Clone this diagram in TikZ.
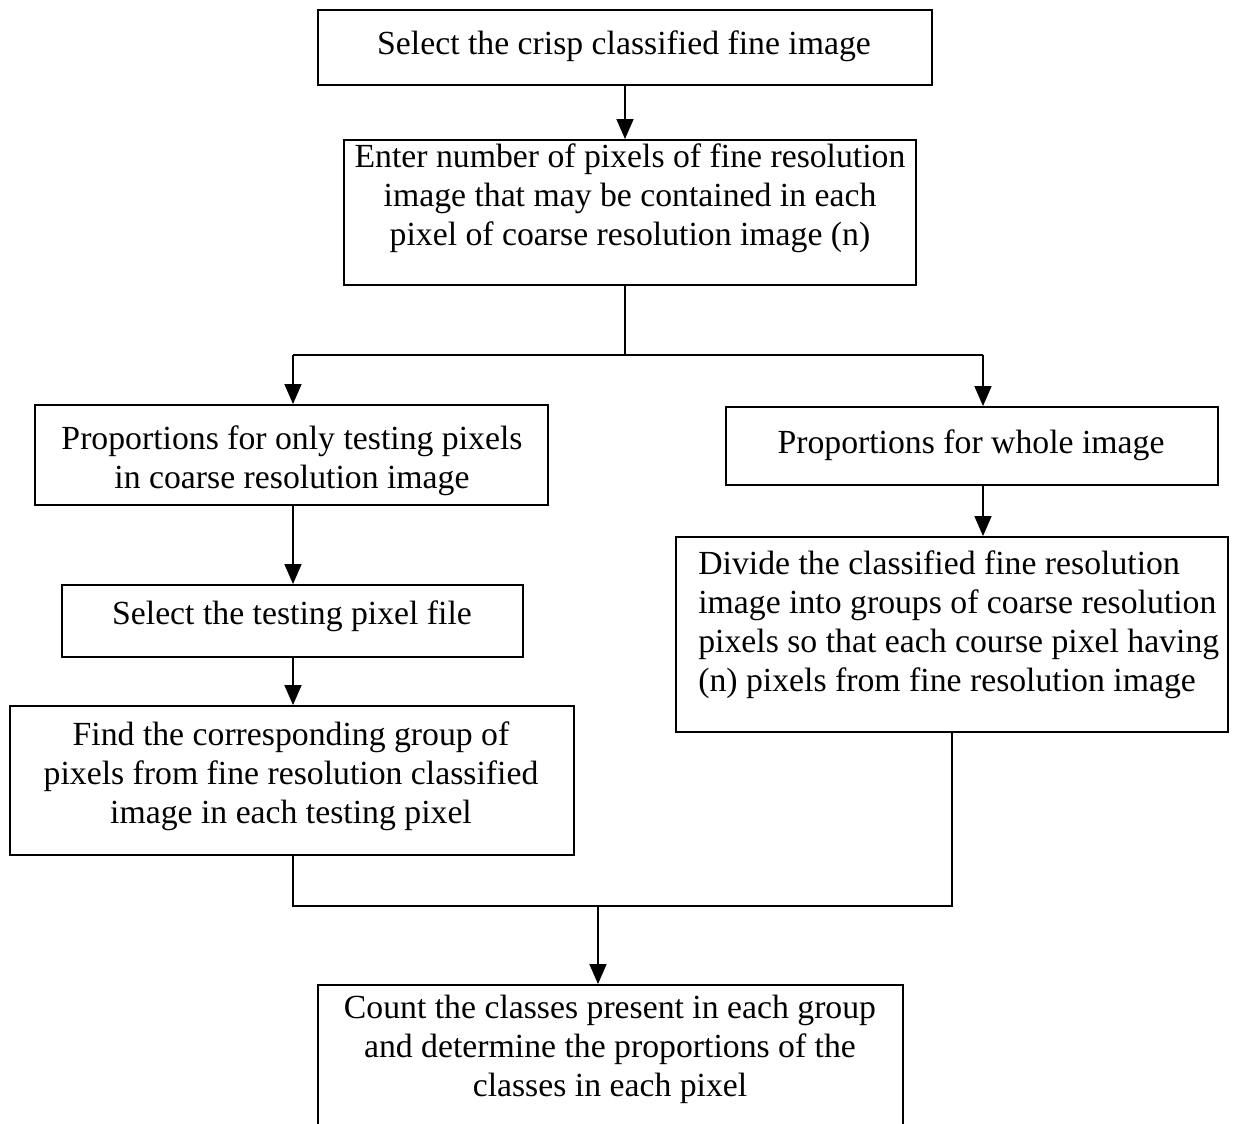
\documentclass[tikz,border=0pt]{standalone}
\usepackage{fontspec}
\setmainfont{Liberation Serif}
\usetikzlibrary{arrows.meta}
\begin{document}
\begin{tikzpicture}[x=0.02cm,y=-0.02cm,
  box/.style={draw,line width=1.1pt,inner sep=0pt,rectangle},
  txt/.style={inner sep=0pt,align=center,anchor=base,font=\fontsize{19.2}{22.2}\selectfont},
  txtl/.style={inner sep=0pt,align=left,anchor=base west,font=\fontsize{19.2}{22.2}\selectfont},
  conn/.style={line width=1pt},
  arr/.style={line width=1pt,-{Triangle[length=0.4cm,width=0.34cm]}}]
\clip (0,0) rectangle (1259,1124);
\fill[white] (0,0) rectangle (1259,1124);
% boxes
\node[box,minimum width=12.28cm,minimum height=1.5cm] (b1) at (625,47.5) {};
\node[box,minimum width=11.44cm,minimum height=2.9cm] (b2) at (630,212.5) {};
\node[box,minimum width=10.26cm,minimum height=2.0cm] (b3) at (291.5,455) {};
\node[box,minimum width=9.84cm,minimum height=1.56cm] (b4) at (972,446) {};
\node[box,minimum width=9.22cm,minimum height=1.44cm] (b5) at (292.5,621) {};
\node[box,minimum width=11.04cm,minimum height=3.9cm] (b6) at (952,634.5) {};
\node[box,minimum width=11.28cm,minimum height=2.98cm] (b7) at (292,780.5) {};
\node[box,minimum width=11.7cm,minimum height=3.4cm] (b8) at (610.5,1070) {};
% texts (anchor base = baseline of the last line)
\node[txt] (t1) at (624,55) {Select the crisp classified fine image};
\node[txt] (t2) at (630,246) {Enter number of pixels of fine resolution\\image that may be contained in each\\pixel of coarse resolution image (n)};
\node[txt] (t3) at (292,489) {Proportions for only testing pixels\\in coarse resolution image};
\node[txt] (t4) at (971,454) {Proportions for whole image};
\node[txt] (t5) at (292,625) {Select the testing pixel file};
\node[txtl] (t6) at (698,692) {Divide the classified fine resolution\\image into groups of coarse resolution\\pixels so that each course pixel having\\(n) pixels from fine resolution image};
\node[txt] (t7) at (291,824) {Find the corresponding group of\\pixels from fine resolution classified\\image in each testing pixel};
\node[txt] (t8) at (610,1097) {Count the classes present in each group\\and determine the proportions of the\\classes in each pixel};
% junctions
\coordinate (jt) at (625,355);
\coordinate (jl) at (293,355);
\coordinate (jr) at (983,355);
\coordinate (bl) at (293,906);
\coordinate (br) at (952,906);
\coordinate (bm) at (598,906);
% connectors
\draw[arr] (b1.south) -- (b1.south |- b2.north);
\draw[conn] (b2.south -| jt) -- (jt);
\draw[conn] (jl) -- (jr);
\draw[arr] (jl) -- (jl |- b3.north);
\draw[arr] (jr) -- (jr |- b4.north);
\draw[arr] (b3.south -| jl) -- (jl |- b5.north);
\draw[arr] (b5.south -| jl) -- (jl |- b7.north);
\draw[arr] (b4.south -| jr) -- (jr |- b6.north);
\draw[conn] (b7.south -| bl) -- (bl) -- (br) -- (b6.south -| br);
\draw[arr] (bm) -- (bm |- b8.north);
\end{tikzpicture}
\end{document}
